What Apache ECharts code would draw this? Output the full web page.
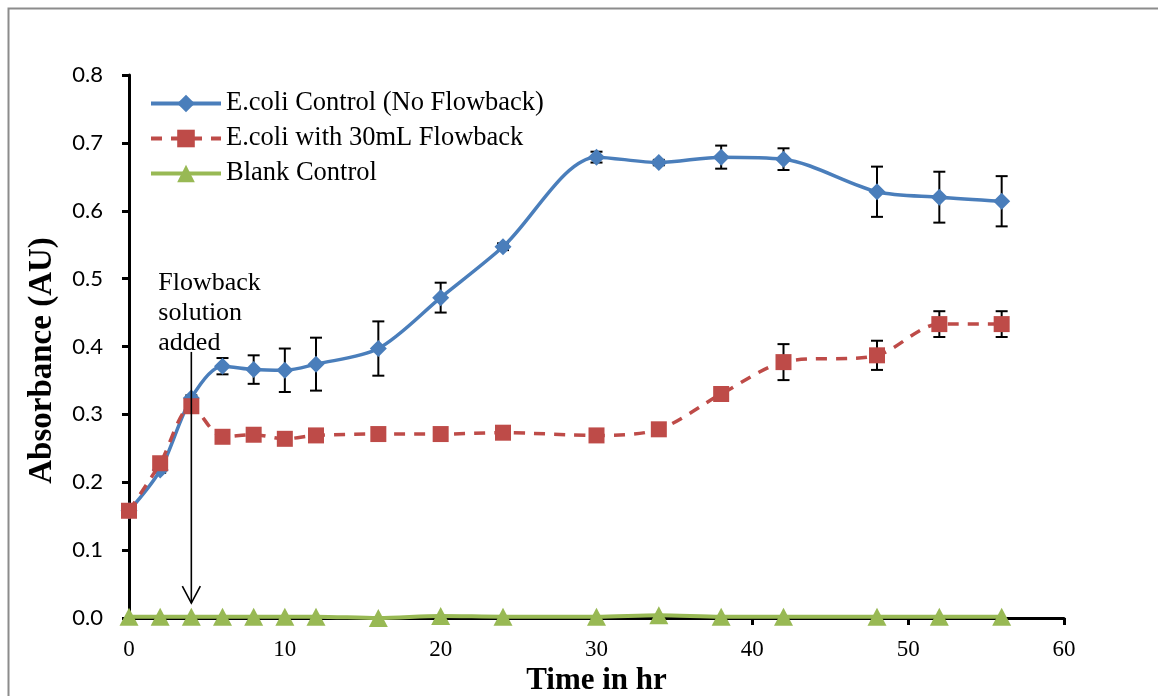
<!DOCTYPE html>
<html>
<head>
<meta charset="utf-8">
<script src="https://cdn.jsdelivr.net/npm/echarts@6/dist/echarts.min.js"></script>
<style>
  html, body { margin: 0; padding: 0; background: #fff; }
  #chart { width: 1158px; height: 696px; }
</style>
</head>
<body>
<div id="chart"></div>
<script>
// Sampling times (hours)
const times = [0, 2, 4, 6, 8, 10, 12, 16, 20, 24, 30, 34, 38, 42, 48, 52, 56];

// Absorbance readings (AU) and their standard deviations
const ctrlValues = [0.158, 0.218, 0.324, 0.371, 0.366, 0.365, 0.374, 0.397, 0.472, 0.547, 0.679, 0.671, 0.679, 0.676, 0.628, 0.620, 0.614];
const ctrlErr    = [0.003, 0.004, 0.004, 0.012, 0.021, 0.032, 0.039, 0.040, 0.022, 0.005, 0.008, 0.004, 0.017, 0.016, 0.037, 0.0375, 0.037];
const flowValues = [0.158, 0.228, 0.312, 0.267, 0.270, 0.264, 0.269, 0.271, 0.271, 0.273, 0.269, 0.278, 0.330, 0.377, 0.387, 0.433, 0.433];
const flowErr    = [0.002, 0.004, 0.004, 0.004, 0.004, 0.004, 0.003, 0.003, 0.003, 0.003, 0.003, 0.003, 0.005, 0.0265, 0.0215, 0.019, 0.019];
const blankValues = [0.002, 0.002, 0.002, 0.002, 0.002, 0.002, 0.002, 0.000, 0.003, 0.002, 0.002, 0.004, 0.002, 0.002, 0.002, 0.002, 0.002];

const seriesNames = ['E.coli Control (No Flowback)', 'E.coli with 30mL Flowback', 'Blank Control'];

// Event marker: time the flowback solution was added, arrow span in AU
const eventTime = 4;
const eventTop = 0.392;
const eventBottom = 0.022;
const eventLabel = 'Flowback\nsolution\nadded';

const serif = '"Liberation Serif", "Times New Roman", serif';
const sans = 'Lato, "Open Sans", sans-serif';

function pairs(vals) { return times.map((t, i) => [t, vals[i]]); }
function errRows(vals, errs) { return times.map((t, i) => [t, vals[i] - errs[i], vals[i] + errs[i]]); }

function errorBarItem(params, api) {
  const x = api.value(0);
  const lo = api.coord([x, api.value(1)]);
  const hi = api.coord([x, api.value(2)]);
  const half = 6;
  const style = { stroke: '#000', lineWidth: 2, fill: null };
  return {
    type: 'group',
    children: [
      { type: 'line', shape: { x1: lo[0], y1: lo[1], x2: hi[0], y2: hi[1] }, style },
      { type: 'line', shape: { x1: lo[0] - half, y1: lo[1], x2: lo[0] + half, y2: lo[1] }, style },
      { type: 'line', shape: { x1: hi[0] - half, y1: hi[1], x2: hi[0] + half, y2: hi[1] }, style }
    ]
  };
}

const chart = echarts.init(document.getElementById('chart'));
chart.setOption({
  animation: false,
  backgroundColor: '#fff',
  graphic: [{
    type: 'rect',
    shape: { x: 8.5, y: 8.5, width: 1300, height: 900 },
    style: { fill: null, stroke: '#8c8c8c', lineWidth: 2 },
    silent: true
  }],
  grid: { left: 129, right: 94, top: 75, bottom: 78, outerBoundsMode: 'none' },
  legend: {
    data: seriesNames,
    orient: 'vertical',
    left: 144,
    top: 85,
    itemWidth: 70,
    itemHeight: 22,
    itemGap: 8,
    lineStyle: { width: 4 },
    textStyle: { fontFamily: serif, fontSize: 26.5, color: '#000' }
  },
  xAxis: {
    type: 'value',
    min: 0, max: 60, interval: 10,
    name: 'Time in hr',
    nameLocation: 'middle',
    nameGap: 46,
    nameTextStyle: { fontFamily: serif, fontSize: 31, fontWeight: 'bold', color: '#000' },
    axisLine: { lineStyle: { color: '#000', width: 3 } },
    axisTick: { inside: false, length: 7, lineStyle: { color: '#000', width: 3 } },
    axisLabel: { margin: 20, fontFamily: serif, fontSize: 23, color: '#000' },
    splitLine: { show: false }
  },
  yAxis: {
    type: 'value',
    min: 0, max: 0.8, interval: 0.1,
    name: 'Absorbance (AU)',
    nameLocation: 'middle',
    nameGap: 70,
    nameTextStyle: { fontFamily: serif, fontSize: 33, fontWeight: 'bold', color: '#000',
                     padding: [0, 28, 0, 0] },
    axisLine: { show: true, lineStyle: { color: '#000', width: 3 } },
    axisTick: { show: true, length: 7, lineStyle: { color: '#000', width: 3 } },
    axisLabel: { margin: 26, fontFamily: sans, fontSize: 22, color: '#000',
                 formatter: v => v.toFixed(1) },
    splitLine: { show: false }
  },
  series: [
    {
      type: 'custom',
      renderItem: errorBarItem,
      data: errRows(ctrlValues, ctrlErr),
      z: 1, silent: true
    },
    {
      type: 'custom',
      renderItem: errorBarItem,
      data: errRows(flowValues, flowErr),
      z: 1, silent: true
    },
    {
      name: seriesNames[0],
      type: 'line',
      data: pairs(ctrlValues),
      smooth: 0.3,
      symbol: 'diamond',
      symbolSize: 17,
      itemStyle: { color: '#4A7EBB' },
      lineStyle: { color: '#4A7EBB', width: 3.5 },
      z: 3
    },
    {
      name: seriesNames[1],
      type: 'line',
      data: pairs(flowValues),
      smooth: 0.3,
      symbol: 'rect',
      symbolSize: 16,
      itemStyle: { color: '#BE4B48' },
      lineStyle: { color: '#BE4B48', width: 3.5, type: [11, 9] },
      z: 4
    },
    {
      name: seriesNames[2],
      type: 'line',
      data: pairs(blankValues),
      smooth: 0.3,
      clip: false,
      symbol: 'triangle',
      symbolSize: [19, 18],
      itemStyle: { color: '#98B954' },
      lineStyle: { color: '#98B954', width: 4 },
      z: 5
    },
    {
      type: 'custom',
      silent: true,
      z: 6,
      data: [[eventTime, eventTop, eventBottom]],
      renderItem: function (params, api) {
        const top = api.coord([api.value(0), api.value(1)]);
        const bot = api.coord([api.value(0), api.value(2)]);
        const st = { stroke: '#000', lineWidth: 1.6, fill: null };
        return {
          type: 'group',
          children: [
            { type: 'line', shape: { x1: top[0], y1: top[1], x2: bot[0], y2: bot[1] }, style: st },
            { type: 'polyline', shape: { points: [[bot[0] - 9, bot[1] - 17], [bot[0], bot[1]], [bot[0] + 9, bot[1] - 17]] }, style: st },
            { type: 'text', x: top[0] - 33, y: top[1] + 6,
              style: { text: eventLabel, font: '26px ' + serif, fill: '#000',
                       lineHeight: 30, align: 'left', verticalAlign: 'bottom' } }
          ]
        };
      }
    }
  ]
});
</script>
</body>
</html>
